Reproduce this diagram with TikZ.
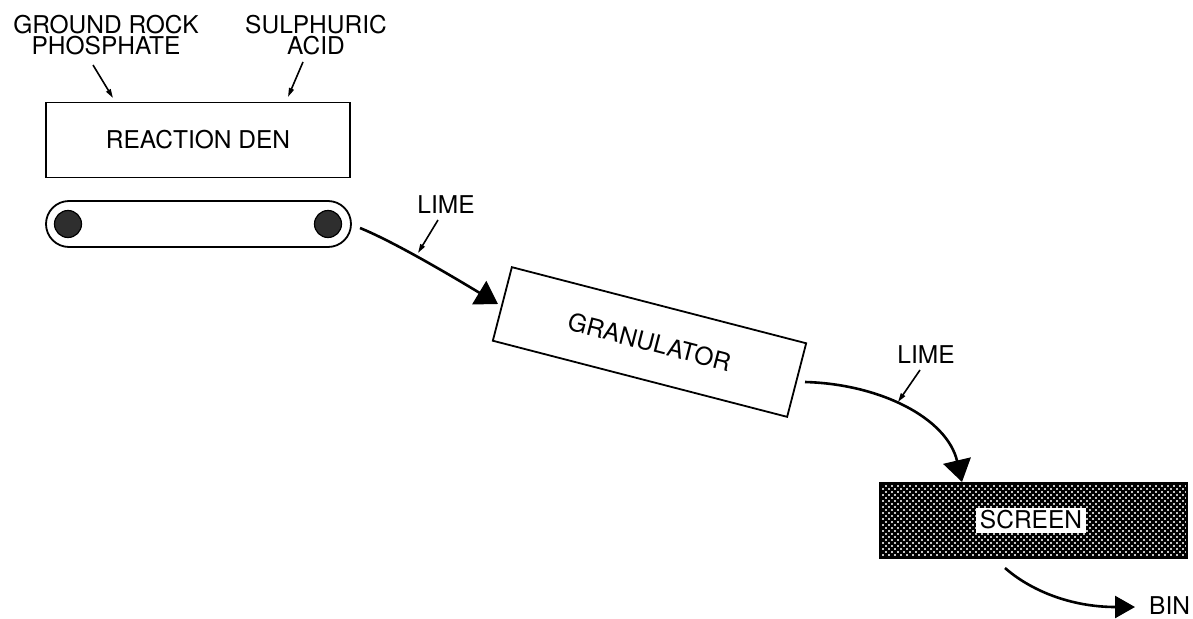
\documentclass[tikz,border=0pt]{standalone}
\usepackage{fontspec}
\setmainfont{TeX Gyre Heros}
\usetikzlibrary{arrows.meta}
\begin{document}
\begin{tikzpicture}[x=1pt,y=-1pt,
  every node/.style={font=\fontsize{24.5}{21.5}\selectfont},
  boxnode/.style={draw, line width=1.8pt, inner sep=0pt},
  bigarrow/.style={line width=2.6pt, -{Triangle[length=22pt,width=27pt]}},
  ptr/.style={line width=1.6pt, -{Triangle[length=9pt,width=5pt]}},
  lbl/.style={align=center, inner sep=0pt},
  roller/.style={circle, draw, line width=1.2pt, fill=black!82, minimum size=27pt, inner sep=0pt}]
\useasboundingbox (0,0) rectangle (1193,618);

% labels
\node[lbl] (grp) at (106,35) {GROUND ROCK\\PHOSPHATE};
\node[lbl] (sul) at (316,35) {SULPHURIC\\ACID};

% reaction den
\node[boxnode, minimum width=304pt, minimum height=75pt] (den) at (198,140) {REACTION DEN};

% conveyor
\node[boxnode, rounded corners=23pt, minimum width=305pt, minimum height=46pt] (conv) at (198.5,224) {};
\node[roller] (rl) at (68,224) {};
\node[roller] (rr) at (328,224) {};

% pointers into den
\coordinate (p1s) at (93,65);  \coordinate (p1e) at (113,98);
\coordinate (p2s) at (303,62); \coordinate (p2e) at (288,97);
\draw[ptr] (p1s) -- (p1e);
\draw[ptr] (p2s) -- (p2e);

% granulator
\node[boxnode, rotate=-14.5, minimum width=304pt, minimum height=76pt] (gran) at (649.5,342) {GRANULATOR};

% arrow 1
\coordinate (a1s) at (360,228);
\coordinate (a1e) at (498,304);
\draw[bigarrow] (a1s) .. controls (392,241) and (445,272) .. (a1e);
\node[inner sep=0pt] (lime1) at (446,205) {LIME};
\coordinate (l1s) at (438,220); \coordinate (l1e) at (418,253);
\draw[ptr] (l1s) -- (l1e);

% screen
\begin{scope}
  \clip (880,483) rectangle (1187,558);
  \fill[white] (880,483) rectangle (1187,558);
  \foreach \k in {-14,...,66} {
    \draw[line width=2.3pt] ({880+\k*6},483) -- ++(75,75);
    \draw[line width=2.3pt] ({880+\k*6},483) -- ++(-75,75);
  }
\end{scope}
\node[draw, line width=1.2pt, minimum width=307pt, minimum height=75pt, inner sep=0pt] (screen) at (1033.5,520.5) {};
\node[fill=white, inner xsep=4pt, inner ysep=4pt, text height=17pt, text depth=0pt] (scrlabel) at (1031,520) {SCREEN};

% arrow 2
\coordinate (a2s) at (805,382);
\coordinate (a2e) at (962,482);
\draw[bigarrow, -{Triangle[length=22pt,width=28pt]}] (a2s) .. controls (880,384) and (947,418) .. (a2e);
\node[inner sep=0pt] (lime2) at (926,355) {LIME};
\coordinate (l2s) at (920,370); \coordinate (l2e) at (898,402);
\draw[ptr] (l2s) -- (l2e);

% arrow 3
\coordinate (a3s) at (1005,568);
\coordinate (a3e) at (1135,607);
\draw[bigarrow, -{Triangle[length=20pt,width=22pt]}] (a3s) .. controls (1030,590) and (1070,607) .. (a3e);
\node[inner sep=0pt, anchor=west] (bin) at (1149,606) {BIN};
\end{tikzpicture}
\end{document}
